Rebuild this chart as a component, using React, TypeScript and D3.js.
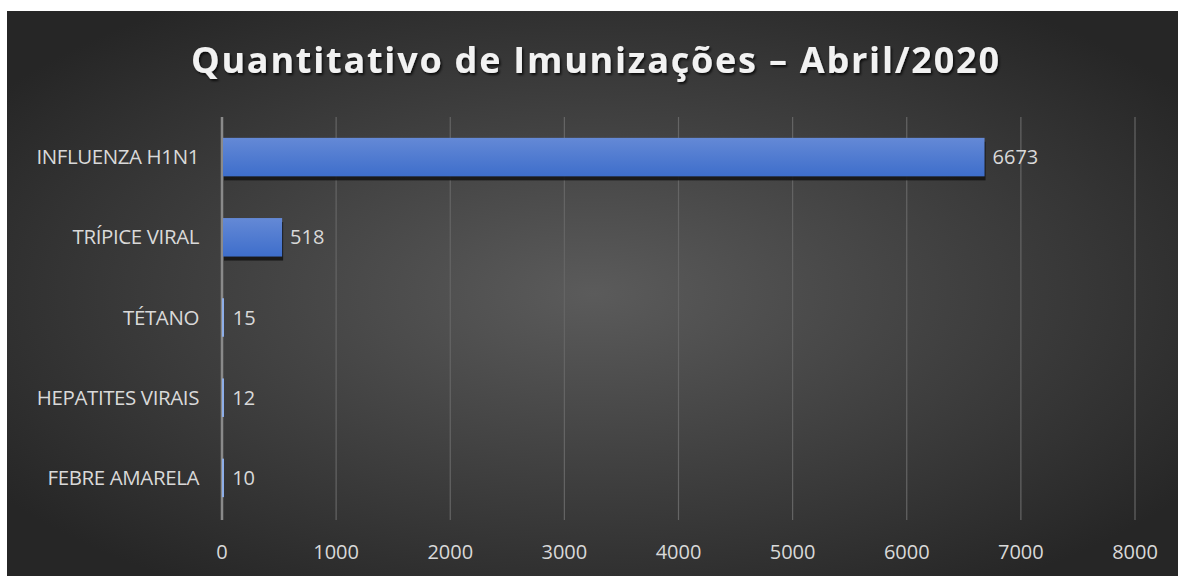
import * as d3 from "d3";

const categories = ["INFLUENZA H1N1", "TRÍPICE VIRAL", "TÉTANO", "HEPATITES VIRAIS", "FEBRE AMARELA"];
const doses = [6673, 518, 15, 12, 10];
const xTicks = [0, 1000, 2000, 3000, 4000, 5000, 6000, 7000, 8000];
const title = "Quantitativo de Imunizações – Abril/2020";

const W = 1178;
const H = 576;
const frame = { x: 7, y: 11, w: 1171, h: 565 };
const plot = { left: 222, right: 1135, top: 117, bottom: 518 };

export default function App() {
  const x = d3.scaleLinear().domain([0, 8000]).range([plot.left, plot.right]);
  const y = d3.scaleBand().domain(categories).range([plot.top, plot.bottom]).paddingInner(0.52).paddingOuter(0.26);
  const font = "'Open Sans', sans-serif";

  return (
    <svg width={W} height={H} style={{ position: "absolute", left: 0, top: 0 }}>
      <defs>
        <radialGradient id="bg" cx="0.5" cy="0.5" r="0.62" gradientUnits="objectBoundingBox">
          <stop offset="0" stopColor="#5b5b5b" />
          <stop offset="1" stopColor="#262626" />
        </radialGradient>
        <linearGradient id="bar" x1="0" y1="0" x2="0" y2="1">
          <stop offset="0" stopColor="#6489d6" />
          <stop offset="1" stopColor="#3e6ecb" />
        </linearGradient>
        <filter id="shadow" x="-5%" y="-30%" width="110%" height="160%">
          <feDropShadow dx="1.5" dy="2" stdDeviation="0.8" floodColor="#000" floodOpacity="0.75" />
        </filter>
      </defs>
      <rect x={frame.x} y={frame.y} width={frame.w} height={frame.h} fill="url(#bg)" />

      {/* título */}
      <text
        x={191}
        y={73}
        textLength={808}
        lengthAdjust="spacing"
        fill="#f2f2f2"
        fontFamily={font}
        fontWeight="bold"
        fontSize={36}
        filter="url(#shadow)"
      >
        {title}
      </text>

      {xTicks.map((t) => (
        <g key={t}>
          {t > 0 && (
            <line x1={x(t)} x2={x(t)} y1={plot.top} y2={plot.bottom + 2} stroke="#656565" strokeWidth={1.2} />
          )}
          <text x={x(t)} y={559} textAnchor="middle" fill="#d9d9d9" fontFamily={font} fontSize={20}>
            {t}
          </text>
        </g>
      ))}
      <line x1={x(0)} x2={x(0)} y1={plot.top} y2={plot.bottom + 2} stroke="#8a8a8a" strokeWidth={2.5} />

      {categories.map((c, i) => {
        const y0 = y(c)!;
        const bw = Math.max(x(doses[i]) - x(0), 2);
        const small = doses[i] < 100;
        return (
          <g key={c}>
            {!small && (
              <rect x={x(0) + 2} y={y0 + 4} width={bw} height={y.bandwidth()} fill="#151515" opacity={0.9} />
            )}
            <rect
              x={x(0) + (small ? 0 : 1)}
              y={y0}
              width={small ? 2 : bw}
              height={y.bandwidth()}
              fill={small ? "#8eaee8" : "url(#bar)"}
            />
            <text
              x={199}
              y={y0 + y.bandwidth() / 2}
              dy="0.35em"
              textAnchor="end"
              fill="#d9d9d9"
              fontFamily={font}
              fontSize={20.5}
              letterSpacing={-0.4}
            >
              {c}
            </text>
            <text
              x={x(doses[i]) + 9}
              y={y0 + y.bandwidth() / 2}
              dy="0.35em"
              fill="#d9d9d9"
              fontFamily={font}
              fontSize={20}
            >
              {doses[i]}
            </text>
          </g>
        );
      })}
    </svg>
  );
}
